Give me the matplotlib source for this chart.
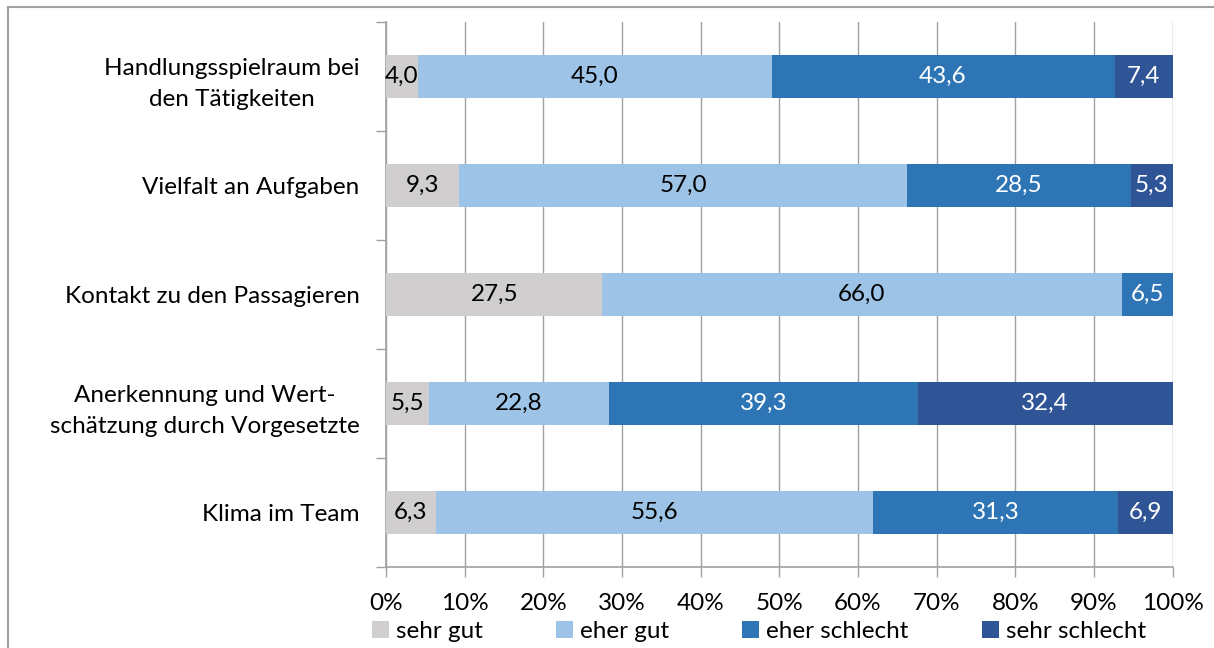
import numpy as np
import matplotlib.pyplot as plt
from matplotlib.patches import Rectangle

plt.rcParams['font.family'] = ['Lato', 'DejaVu Sans']

categories = ['Handlungsspielraum bei\nden Tätigkeiten',
              'Vielfalt an Aufgaben',
              'Kontakt zu den Passagieren',
              'Anerkennung und Wert-\nschätzung durch Vorgesetzte',
              'Klima im Team']
series = ['sehr gut', 'eher gut', 'eher schlecht', 'sehr schlecht']
sehr_gut = [4.0, 9.3, 27.5, 5.5, 6.3]
eher_gut = [45.0, 57.0, 66.0, 22.8, 55.6]
eher_schlecht = [43.6, 28.5, 6.5, 39.3, 31.3]
sehr_schlecht = [7.4, 5.3, 0.0, 32.4, 6.9]

colors = ['#D0CECE', '#9DC3E6', '#2E75B6', '#2F5597']
text_colors = ['black', 'black', 'white', 'white']

data = np.array([sehr_gut, eher_gut, eher_schlecht, sehr_schlecht])
share = data / data.sum(axis=0) * 100

fig = plt.figure(figsize=(12.14, 6.48), dpi=100)
ax = fig.add_axes([0.318, 0.125, 0.648, 0.841])

fs = 17.5
y = np.arange(len(categories))
left = np.zeros(len(categories))
for i, name in enumerate(series):
    bars = ax.barh(y, share[i], left=left, height=0.4, color=colors[i],
                   label=name, zorder=3)
    for j, b in enumerate(bars):
        if data[i, j] > 0:
            ax.text(left[j] + share[i, j] / 2, y[j],
                    f'{data[i, j]:.1f}'.replace('.', ','),
                    ha='center', va='center', fontsize=fs,
                    color=text_colors[i], zorder=4)
    left += share[i]

ax.set_xlim(0, 100)
ax.set_ylim(4.5, -0.5)
ax.set_xticks(np.arange(0, 101, 10))
ax.set_xticklabels([f'{v}%' for v in range(0, 101, 10)], fontsize=fs)
ax.set_yticks(y)
ax.set_yticklabels(categories, fontsize=fs, linespacing=1.6)
for t in ax.get_yticklabels():
    t.set_multialignment('center')
ax.tick_params(axis='y', which='major', length=0, pad=19)
ax.set_yticks(np.arange(-0.5, 5, 1), minor=True)
ax.tick_params(axis='y', which='minor', length=7, color='#A0A0A0', width=1)
ax.tick_params(axis='x', length=7, color='#A0A0A0', width=1, pad=12)
ax.grid(axis='x', color='#A0A0A0', linewidth=1, zorder=0)

for s in ['top', 'right']:
    ax.spines[s].set_visible(False)
for s in ['left', 'bottom']:
    ax.spines[s].set_color('#A0A0A0')
    ax.spines[s].set_linewidth(1.2)

fig.legend(loc='center', bbox_to_anchor=(0.625, 0.026), ncol=4, frameon=False,
           fontsize=fs, handlelength=0.7, handleheight=0.7, handletextpad=0.3,
           columnspacing=3.0, borderaxespad=0)

fig.patches.append(Rectangle((8 / 1214, -0.2), 1.2, 1.2 - 7 / 648,
                             transform=fig.transFigure, fill=False,
                             edgecolor='#A0A0A0', linewidth=1.5))

fig.savefig('out.png', dpi=100)
